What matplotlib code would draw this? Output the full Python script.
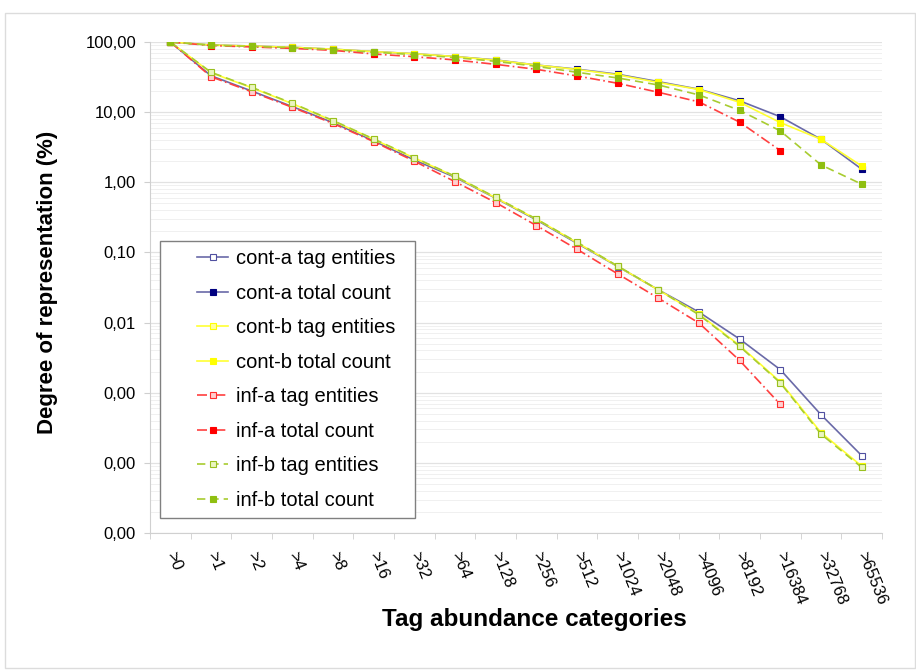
import numpy as np
import matplotlib
matplotlib.use("Agg")
import matplotlib.pyplot as plt
from matplotlib.ticker import FixedLocator, FuncFormatter, LogLocator, NullFormatter
from matplotlib.patches import Rectangle

plt.rcParams['font.family'] = ['Liberation Sans', 'DejaVu Sans']

# categories on the x axis
categories = ['>0', '>1', '>2', '>4', '>8', '>16', '>32', '>64', '>128', '>256',
              '>512', '>1024', '>2048', '>4096', '>8192', '>16384', '>32768', '>65536']

# tag entities (lower curves), % of representation
cont_a_tags = [100, 33, 20, 12, 7.1, 3.9, 2.08, 1.18, 0.593, 0.291, 0.135, 0.063,
               0.0293, 0.0141, 0.00582, 0.00213, 0.000486, 0.000127]
cont_b_tags = [100, 36.5, 22.3, 13.2, 7.5, 4.1, 2.22, 1.21, 0.6, 0.298, 0.138, 0.0635,
               0.0292, 0.0132, 0.0047, 0.00142, 0.00027, 0.00009]
inf_a_tags = [100, 32, 19.5, 11.7, 6.9, 3.8, 2.0, 1.02, 0.514, 0.242, 0.111, 0.0495,
              0.0223, 0.00984, 0.00288, 0.00068]
inf_b_tags = [100, 37, 22.6, 13.4, 7.6, 4.15, 2.25, 1.22, 0.61, 0.3, 0.14, 0.064,
              0.0293, 0.0129, 0.00457, 0.00138, 0.000257, 0.0000863]

# total counts (upper curves)
cont_a_total = [100, 90.6, 87.7, 84, 79, 73, 68, 62, 55.5, 47, 41, 34.7,
                27.2, 21.2, 14.5, 8.6, 4.1, 1.54]
cont_b_total = [100, 90.5, 87.5, 84, 79, 73, 68, 62, 55, 47, 40.5, 34,
                26.5, 21, 13.8, 7.1, 4.1, 1.71]
inf_a_total = [100, 89, 85, 81, 76, 67.5, 61.7, 55.5, 48, 40.8, 32.8, 25.8,
               19.2, 14.0, 7.2, 2.83]
inf_b_total = [100, 90, 86.5, 83, 78, 71.5, 66, 60, 53, 45, 37, 30.7,
               24.4, 17.6, 10.6, 5.4, 1.77, 0.94]

fig = plt.figure(figsize=(9.16, 6.72), dpi=100)
ax = fig.add_axes([150 / 916, 1 - 533 / 672, 732 / 916, 491 / 672])

# light frame round the whole chart
fig.patches.append(Rectangle((5 / 916, 4 / 672), 910 / 916, 655 / 672,
                             transform=fig.transFigure, fill=False,
                             edgecolor='#dcdcdc', linewidth=1))

x = np.arange(len(categories))

series = [
    ('cont-a tag entities', cont_a_tags, '#6a6aa8', '-', 'white', '#5050a0'),
    ('cont-a total count', cont_a_total, '#6a6aa8', '-', '#000080', '#000080'),
    ('cont-b tag entities', cont_b_tags, '#ffff33', '-', '#ffffa0', '#ffff00'),
    ('cont-b total count', cont_b_total, '#ffff33', '-', '#ffff00', '#ffff00'),
    ('inf-a tag entities', inf_a_tags, '#ff4040', (0, (6, 2, 1, 2)), '#ffd0d0', '#ff3030'),
    ('inf-a total count', inf_a_total, '#ff4040', (0, (6, 2, 1, 2)), '#ff0000', '#ff0000'),
    ('inf-b tag entities', inf_b_tags, '#a8cc30', (0, (5, 3)), '#eaf5c0', '#99c020'),
    ('inf-b total count', inf_b_total, '#a8cc30', (0, (5, 3)), '#8fbf10', '#8fbf10'),
]

for label, vals, col, ls, mfc, mec in series:
    ax.plot(x[:len(vals)], vals, color=col, linestyle=ls, linewidth=1.2,
            marker='s', markersize=4, markerfacecolor=mfc, markeredgecolor=mec,
            markeredgewidth=0.8, label=label)

ax.set_yscale('log')
ax.set_ylim(1e-5, 100)
ax.set_xlim(-0.5, len(categories) - 0.5)

ax.yaxis.set_major_locator(FixedLocator([1e-5, 1e-4, 1e-3, 1e-2, 1e-1, 1, 10, 100]))
ax.yaxis.set_major_formatter(FuncFormatter(lambda v, p: f"{v:.2f}".replace('.', ',')))
ax.yaxis.set_minor_locator(LogLocator(base=10, subs=np.arange(2, 10), numticks=20))
ax.yaxis.set_minor_formatter(NullFormatter())

ax.grid(True, which='major', axis='y', color='#e2e2e2', linewidth=0.9)
ax.grid(True, which='minor', axis='y', color='#f0f0f0', linewidth=0.7)
ax.set_axisbelow(True)

ax.set_xticks(x)
ax.set_xticklabels(categories, rotation=-68, ha='left', va='center',
                   rotation_mode='anchor', fontsize=12)
ax.set_xticks(np.arange(len(categories) + 1) - 0.5, minor=True)
ax.tick_params(axis='x', which='major', length=0, pad=14)
ax.tick_params(axis='x', which='minor', length=4, color='#cfcfcf')
ax.tick_params(axis='y', which='major', length=4, color='#cfcfcf', labelsize=12, pad=6)
ax.tick_params(axis='y', which='minor', length=0)

for side in ['top', 'right']:
    ax.spines[side].set_visible(False)
for side in ['left', 'bottom']:
    ax.spines[side].set_color('#d0d0d0')

ax.set_ylabel('Degree of representation (%)', fontsize=16, fontweight='bold')
ax.yaxis.set_label_coords(-0.126, 0.51)
ax.set_xlabel('Tag abundance categories', fontsize=17.5, fontweight='bold')
ax.xaxis.set_label_coords(0.525, -0.152)

# legend frame drawn separately so the wide left margin can be matched
ax.add_patch(Rectangle((0.0137, 0.0305), 0.348, 0.564, transform=ax.transAxes,
                       fill=True, facecolor='white', edgecolor='#808080',
                       linewidth=1.0, zorder=5))
leg = ax.legend(loc='upper left', bbox_to_anchor=(0.0642, 0.578), fontsize=14.5,
                frameon=False, labelspacing=0.77, handlelength=1.55,
                handletextpad=0.4, borderpad=0, borderaxespad=0)
leg.set_zorder(6)

fig.savefig('out.png', dpi=100)
